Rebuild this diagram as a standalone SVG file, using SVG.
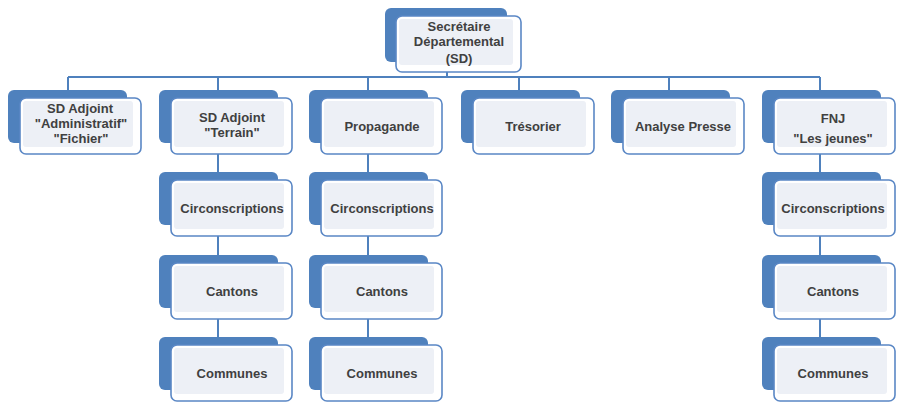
<svg xmlns="http://www.w3.org/2000/svg" width="897" height="404" viewBox="0 0 897 404">
<style>
.back{fill:#4f81bd;}
.front{fill:#ffffff;stroke:#5a87c5;stroke-width:1.6;}
.inner{fill:#edf0f6;}
.conn{stroke:#4f81bd;stroke-width:2;fill:none;}
text{font-family:"Liberation Sans",Arial,sans-serif;font-weight:bold;font-size:13px;fill:#404040;text-anchor:middle;}
</style>
<defs>
<g id="box">
<rect class="back" x="0" y="0" width="119" height="53" rx="6"/>
<rect class="front" x="12" y="8" width="121" height="56" rx="6"/>
<rect class="inner" x="15" y="11" width="110" height="46" rx="3"/>
</g>
</defs>
<rect width="897" height="404" fill="#ffffff"/>
<g id="connectors">
<path class="conn" d="M447 72V77M68 77H820M68 77V90M218 77V345M368 77V345M519 77V90M669 77V90M820 77V345"/>
</g>
<g id="sd">
<rect class="back" x="385" y="8" width="122" height="54" rx="6"/>
<rect class="front" x="396" y="16" width="125" height="56" rx="6"/>
<rect class="inner" x="399" y="19" width="114" height="46" rx="3"/>
<text x="459" y="31">Secrétaire</text>
<text x="459" y="46">Départemental</text>
<text x="459" y="63">(SD)</text>
</g>
<g id="adj-admin" transform="translate(8,90)">
<use href="#box"/>
<text x="72" y="23">SD Adjoint</text>
<text x="73" y="38">"Administratif"</text>
<text x="73" y="53">"Fichier"</text>
</g>
<g id="adj-terrain" transform="translate(159,90)">
<use href="#box"/>
<text x="73" y="32">SD Adjoint</text>
<text x="73" y="47">"Terrain"</text>
</g>
<g id="propagande" transform="translate(309,90)">
<use href="#box"/>
<text x="73" y="41">Propagande</text>
</g>
<g id="tresorier" transform="translate(461,90)">
<use href="#box"/>
<text x="72" y="41">Trésorier</text>
</g>
<g id="analyse" transform="translate(611,90)">
<use href="#box"/>
<text x="72" y="41">Analyse Presse</text>
</g>
<g id="fnj" transform="translate(762,90)">
<use href="#box"/>
<text x="71" y="33">FNJ</text>
<text x="71" y="53">"Les jeunes"</text>
</g>
<g id="circ-terrain" transform="translate(159,172)">
<use href="#box"/>
<text x="73" y="41">Circonscriptions</text>
</g>
<g id="circ-propagande" transform="translate(309,172)">
<use href="#box"/>
<text x="73" y="41">Circonscriptions</text>
</g>
<g id="circ-fnj" transform="translate(762,172)">
<use href="#box"/>
<text x="71" y="41">Circonscriptions</text>
</g>
<g id="cantons-terrain" transform="translate(159,255)">
<use href="#box"/>
<text x="73" y="41">Cantons</text>
</g>
<g id="cantons-propagande" transform="translate(309,255)">
<use href="#box"/>
<text x="73" y="41">Cantons</text>
</g>
<g id="cantons-fnj" transform="translate(762,255)">
<use href="#box"/>
<text x="71" y="41">Cantons</text>
</g>
<g id="communes-terrain" transform="translate(159,337)">
<use href="#box"/>
<text x="73" y="41">Communes</text>
</g>
<g id="communes-propagande" transform="translate(309,337)">
<use href="#box"/>
<text x="73" y="41">Communes</text>
</g>
<g id="communes-fnj" transform="translate(762,337)">
<use href="#box"/>
<text x="71" y="41">Communes</text>
</g>
</svg>
